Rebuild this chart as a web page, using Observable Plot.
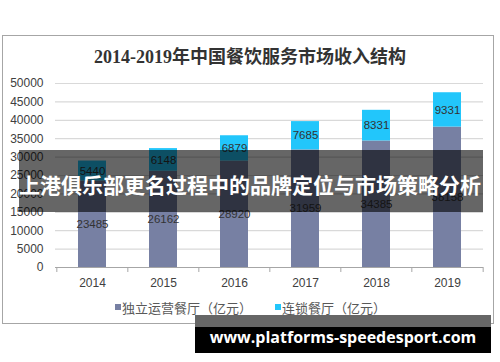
<!DOCTYPE html>
<html>
<head>
<meta charset="utf-8">
<script src="https://cdn.jsdelivr.net/npm/d3@7"></script>
<script src="https://cdn.jsdelivr.net/npm/@observablehq/plot@0.6"></script>
<style>
  html, body { margin: 0; padding: 0; background: #fff; }
  #wrap { position: relative; width: 500px; height: 362px; overflow: hidden; font-family: "Liberation Sans", Arial, sans-serif; }
  #frame { position: absolute; left: 2px; top: 35px; width: 492px; height: 289px; border: 1px solid #a6a6a6; box-sizing: border-box; }
  #title { position: absolute; left: 0; width: 500px; top: 46px; text-align: center; font-family: "Liberation Serif", "Noto Sans CJK SC", serif; font-weight: bold; font-size: 18px; color: #333; line-height: 22px; }
  #chart { position: absolute; left: 0; top: 70px; }
  #legend { position: absolute; top: 299px; left: 0; width: 500px; font-family: "Noto Sans CJK SC", sans-serif; font-size: 13px; color: #595959; line-height: 18px; }
  .li { position: absolute; top: 0; white-space: nowrap; }
  .sw { display: inline-block; width: 6px; height: 6px; margin-right: 1px; vertical-align: 3px; }
  #banner { position: absolute; left: 19px; top: 150px; width: 464px; height: 62px; background: rgba(0,0,0,0.6); }
  #bannerText { position: absolute; left: 0; width: 500px; top: 169px; text-align: center; color: #fff; font-family: "Noto Sans CJK SC", sans-serif; font-weight: bold; font-size: 21px; line-height: 30px; white-space: nowrap; letter-spacing: 0px; }
  #wm { position: absolute; left: 195px; top: 315px; width: 296px; height: 38px; background: #000; }
  #wmTop { position: absolute; left: 0; top: 0; width: 296px; height: 12px; background: #666; }
  #wmText { position: absolute; left: 0; top: 10px; width: 296px; text-align: center; color: #fff; font-family: "Open Sans", sans-serif; font-weight: bold; font-size: 16px; line-height: 24px; white-space: nowrap; }
</style>
</head>
<body>
<div id="wrap">
  <div id="frame"></div>
  <div id="title"></div>
  <div id="chart"></div>
  <div id="legend"></div>
  <div id="banner"></div>
  <div id="bannerText"></div>
  <div id="wm"><div id="wmTop"></div><div id="wmText"></div></div>
</div>
<script>
const titleText = "2014-2019年中国餐饮服务市场收入结构";
const years = ["2014", "2015", "2016", "2017", "2018", "2019"];
const independent = [23485, 26162, 28920, 31959, 34385, 38158];
const chain = [5440, 6148, 6879, 7685, 8331, 9331];
const seriesNames = ["独立运营餐厅（亿元）", "连锁餐厅（亿元）"];
const seriesColors = ["#7780a3", "#22c6fb"];
const yTicks = [0, 5000, 10000, 15000, 20000, 25000, 30000, 35000, 40000, 45000, 50000];
const bannerLabel = "上港俱乐部更名过程中的品牌定位与市场策略分析";
const watermark = "www.platforms-speedesport.com";

document.getElementById("title").textContent = titleText;
document.getElementById("bannerText").textContent = bannerLabel;
document.getElementById("wmText").textContent = watermark;

const data = years.flatMap((y, i) => [
  {year: y, series: seriesNames[0], value: independent[i]},
  {year: y, series: seriesNames[1], value: chain[i]}
]);

const W = 500, H = 225, mL = 55, mR = 17, mT = 13, mB = 28;
const half = (W - mL - mR) / years.length / 2;

const chart = Plot.plot({
  width: W, height: H,
  marginLeft: mL, marginRight: mR, marginTop: mT, marginBottom: mB,
  style: {fontFamily: "Liberation Sans, Arial, sans-serif", background: "transparent", overflow: "visible"},
  x: {domain: years, paddingInner: 0.61, paddingOuter: 0.305, label: null},
  y: {domain: [0, 50000], label: null},
  color: {domain: seriesNames, range: seriesColors},
  marks: [
    Plot.gridY(yTicks.slice(1), {stroke: "#d9d9d9", strokeOpacity: 1, strokeWidth: 1.2}),
    Plot.barY(data, Plot.stackY({x: "year", y: "value", fill: "series", z: "series", order: seriesNames})),
    Plot.text(data, Plot.stackY({x: "year", y: "value", z: "series", order: seriesNames, text: d => String(d.value), fill: "#333", fontSize: 11.5})),
    Plot.ruleY([0], {stroke: "#a6a6a6"}),
    Plot.ruleX(years, {x: d => d, y1: 0, y2: 0, insetBottom: -5, dx: -half, stroke: "#a6a6a6"}),
    Plot.ruleX(years.slice(-1), {x: d => d, y1: 0, y2: 0, insetBottom: -5, dx: half, stroke: "#a6a6a6"}),
    Plot.axisX({tickSize: 0, tickPadding: 11, fontSize: 12, fill: "#404040"}),
    Plot.axisY(yTicks, {tickSize: 0, tickPadding: 12, fontSize: 12, fill: "#404040", tickFormat: d => String(d)})
  ]
});
document.getElementById("chart").appendChild(chart);

const legend = document.getElementById("legend");
const legendX = [115, 275];
seriesNames.forEach((n, i) => {
  const item = document.createElement("div");
  item.className = "li";
  item.style.left = legendX[i] + "px";
  const sw = document.createElement("span");
  sw.className = "sw";
  sw.style.background = seriesColors[i];
  item.appendChild(sw);
  item.appendChild(document.createTextNode(n));
  legend.appendChild(item);
});
</script>
</body>
</html>
